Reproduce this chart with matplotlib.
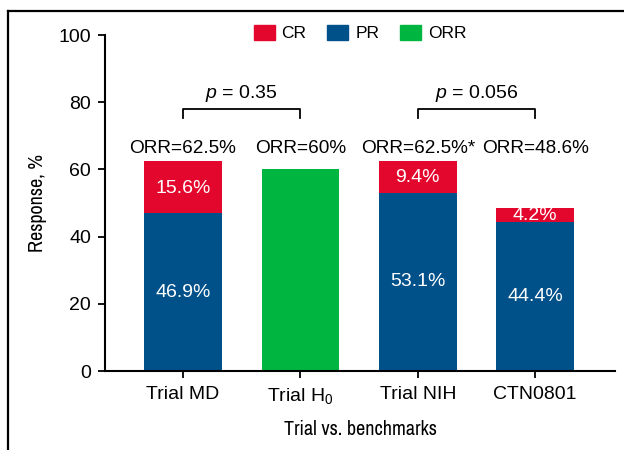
import matplotlib
matplotlib.use("Agg")
import matplotlib.pyplot as plt
from matplotlib.patches import Patch
from matplotlib.lines import Line2D
from matplotlib import font_manager as fm

categories = ["Trial MD", "Trial H$_0$", "Trial NIH", "CTN0801"]
pr_values = [46.9, 0, 53.1, 44.4]
cr_values = [15.6, 0, 9.4, 4.2]
orr_values = [0, 60, 0, 0]
orr_labels = ["ORR=62.5%", "ORR=60%", "ORR=62.5%*", "ORR=48.6%"]
pvalue_labels = ["$p$ = 0.35", "$p$ = 0.056"]
pvalue_pairs = [(0, 1), (2, 3)]

C_CR = "#E4072D"
C_PR = "#00508A"
C_ORR = "#00B640"

names = {f.name for f in fm.fontManager.ttflist}
base = "Liberation Sans" if "Liberation Sans" in names else "DejaVu Sans"
narrow = base
for cand in ["Archivo Narrow", "Roboto Condensed", "PT Sans Narrow"]:
    if cand in names:
        narrow = cand
        break
plt.rcParams["font.family"] = [base, "DejaVu Sans"]
plt.rcParams["mathtext.fontset"] = "custom"
plt.rcParams["mathtext.rm"] = base
plt.rcParams["mathtext.it"] = base + ":italic"

fig = plt.figure(figsize=(6.24, 4.5), dpi=100)
ax = fig.add_axes([105/624, 1 - 371/450, (615-105)/624, (371-35)/450])

x = list(range(len(categories)))
w = 0.66
bars_pr = ax.bar(x, pr_values, w, color=C_PR, zorder=2)
bars_cr = ax.bar(x, cr_values, w, bottom=pr_values, color=C_CR, zorder=2)
bars_orr = ax.bar(x, orr_values, w, color=C_ORR, zorder=2)

for i in x:
    if pr_values[i] > 0:
        ax.text(i, pr_values[i]/2, f"{pr_values[i]:.1f}%", ha="center", va="center",
                color="white", fontsize=14, zorder=3)
    if cr_values[i] > 0:
        t = ax.text(i, pr_values[i] + cr_values[i]/2 - 0.3, f"{cr_values[i]:.1f}%", ha="center",
                    va="center", color="white", fontsize=14, zorder=3)
        t.set_clip_path(bars_cr.patches[i])
    ax.text(i, 66.2, orr_labels[i], ha="center", va="center", fontsize=13.7, color="black")

for (a, b), lab in zip(pvalue_pairs, pvalue_labels):
    ax.plot([a, a, b, b], [75.3, 78, 78, 75.3], color="black", lw=1.3, clip_on=False)
    ax.text((a + b)/2, 82.6, lab, ha="center", va="center", fontsize=14)

ax.set_xlim(-0.665, 3.68)
ax.set_ylim(0, 100)
ax.set_yticks([0, 20, 40, 60, 80, 100])
ax.set_xticks(x)
ax.set_xticklabels(categories, fontsize=14)
ax.tick_params(axis="y", labelsize=14, width=1.3, length=5, pad=5)
ax.tick_params(axis="x", width=1.3, length=5, pad=6)
for s in ["top", "right"]:
    ax.spines[s].set_visible(False)
for s in ["left", "bottom"]:
    ax.spines[s].set_linewidth(1.5)

ax.set_ylabel("Response, %", family=[narrow, "DejaVu Sans"], fontsize=14.5, labelpad=8)
ax.set_xlabel("Trial vs. benchmarks", family=[narrow, "DejaVu Sans"], fontsize=14.5, labelpad=10)

handles = [Patch(color=C_CR, label="CR"), Patch(color=C_PR, label="PR"), Patch(color=C_ORR, label="ORR")]
fig.legend(handles=handles, loc="center", bbox_to_anchor=(360/624, 1 - 33/450), ncol=3,
           frameon=False, fontsize=12.5, handlelength=1.2, handleheight=1.0,
           handletextpad=0.4, columnspacing=1.2)

# outer frame (top and left visible)
fig.add_artist(Line2D([8/624, 8/624], [0, 1 - 11/450], transform=fig.transFigure, color="black", lw=1.6))
fig.add_artist(Line2D([8/624, 1], [1 - 11/450, 1 - 11/450], transform=fig.transFigure, color="black", lw=1.6))

fig.savefig("out.png", dpi=100)
